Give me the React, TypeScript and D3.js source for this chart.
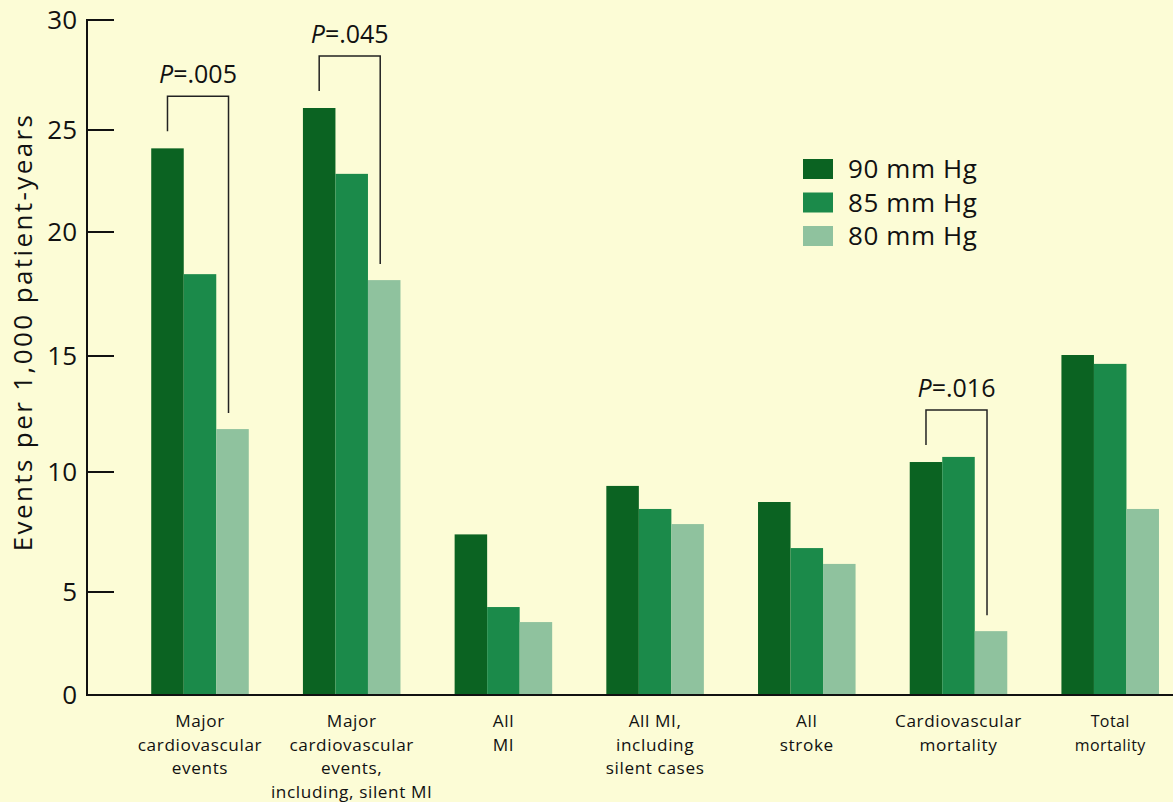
import React from "react";
import * as d3 from "d3";

const categories = [
  ["Major", "cardiovascular", "events"],
  ["Major", "cardiovascular", "events,", "including, silent MI"],
  ["All", "MI"],
  ["All MI,", "including", "silent cases"],
  ["All", "stroke"],
  ["Cardiovascular", "mortality"],
  ["Total", "mortality"],
];
const series = ["90 mm Hg", "85 mm Hg", "80 mm Hg"];
const values90 = [24.1, 26.0, 7.4, 9.42, 8.75, 10.43, 15.04];
const values85 = [18.3, 22.85, 4.27, 8.46, 6.83, 10.65, 14.66];
const values80 = [11.85, 18.06, 3.54, 7.83, 6.17, 3.1, 8.46];
const yTicks = [0, 5, 10, 15, 20, 25, 30];
const pBrackets = [
  { cat: 0, label: ".005" },
  { cat: 1, label: ".045" },
  { cat: 5, label: ".016" },
];

const colors = ["#0b6322", "#1b8a4a", "#8fc29e"];
const bg = "#fcfcd6";
const font = "'Open Sans', 'Noto Sans', sans-serif";

export default function App() {
  const W = 1173, H = 802;
  const x0 = 87;
  const yBase = 695;
  // scanned axis: tick positions measured on the reference
  const y = d3.scaleLinear().domain(yTicks).range([695, 592, 472, 356, 232, 130, 20]);
  const step = 151.7;
  const x = d3
    .scaleBand<number>()
    .domain(categories.map((_, i) => i))
    .range([200 - step / 2, 200 - step / 2 + step * 7])
    .paddingInner(0.357)
    .paddingOuter(0.1785);
  const xs = d3.scaleBand<number>().domain([0, 1, 2]).range([0, x.bandwidth()]);
  const all = [values90, values85, values80];

  return (
    <svg width={W} height={H} style={{ position: "absolute", left: 0, top: 0, background: bg }} fontFamily={font}>
      <rect width={W} height={H} fill={bg} />
      {/* bars */}
      {categories.map((_, ci) =>
        all.map((vals, si) => (
          <rect
            key={`${ci}-${si}`}
            x={(x(ci) as number) + (xs(si) as number)}
            y={y(vals[ci])}
            width={xs.bandwidth()}
            height={yBase - y(vals[ci])}
            fill={colors[si]}
          />
        ))
      )}
      {/* axes */}
      <line x1={x0} x2={x0} y1={19} y2={yBase + 1} stroke="#111" strokeWidth={2} />
      <line x1={x0 - 1} x2={W} y1={yBase} y2={yBase} stroke="#111" strokeWidth={2} />
      {yTicks.map((t) => (
        <g key={t}>
          {t > 0 && <line x1={x0} x2={114} y1={y(t)} y2={y(t)} stroke="#111" strokeWidth={2} />}
          <text x={77} y={y(t)} dy="0.36em" textAnchor="end" fontSize={26} fill="#111">
            {t}
          </text>
        </g>
      ))}
      <text
        transform={`translate(32,332) rotate(-90)`}
        textAnchor="middle"
        fontSize={26}
        letterSpacing={2.4}
        fill="#111"
      >
        Events per 1,000 patient-years
      </text>
      {/* x labels */}
      {categories.map((lines, ci) => {
        const cx = (x(ci) as number) + x.bandwidth() / 2;
        const fs = ci === 6 ? 16 : 17.2;
        const ls = ci === 6 ? 0.4 : 0.6;
        return (
          <g key={ci}>
            {lines.map((l, li) => (
              <text
                key={li}
                x={cx}
                y={727 + li * 23.5}
                textAnchor="middle"
                fontSize={fs}
                letterSpacing={ls}
                fill="#111"
              >
                {l}
              </text>
            ))}
          </g>
        );
      })}
      {/* brackets */}
      {pBrackets.map((b) => {
        const bx = x(b.cat) as number;
        const lx = bx + xs.bandwidth() / 2;
        const rx = bx + (xs(2) as number) + xs.bandwidth() / 2 - 4;
        const top = y(values90[b.cat]) - 52;
        const lb = y(values90[b.cat]) - 17;
        const rb = y(values80[b.cat]) - 16;
        return (
          <g key={b.cat}>
            <path d={`M${lx},${lb}V${top}H${rx}V${rb}`} fill="none" stroke="#222" strokeWidth={1.5} />
            <text x={(lx + rx) / 2} y={top - 13} textAnchor="middle" fontSize={25} fill="#111">
              <tspan fontStyle="italic">P</tspan>={b.label}
            </text>
          </g>
        );
      })}
      {/* legend */}
      {series.map((s, i) => (
        <g key={s} transform={`translate(803,${159 + i * 33.5})`}>
          <rect width={30} height={20} fill={colors[i]} />
          <text x={45} y={10} dy="0.36em" fontSize={26} letterSpacing={0.6} fill="#111">
            {s}
          </text>
        </g>
      ))}
    </svg>
  );
}
